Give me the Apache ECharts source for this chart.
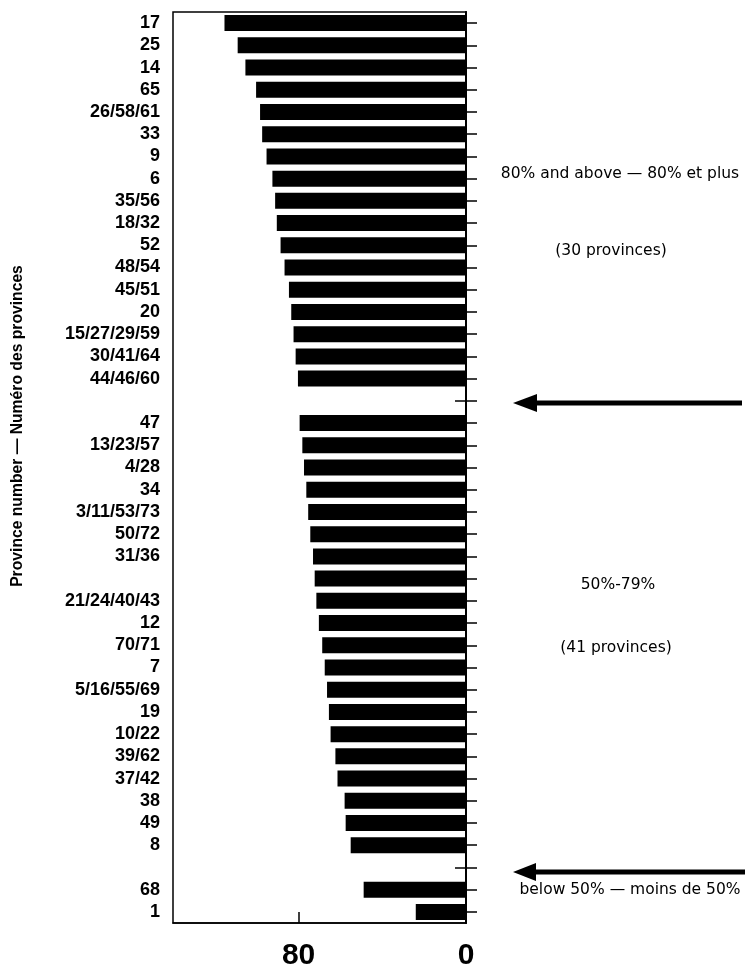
<!DOCTYPE html>
<html>
<head>
<meta charset="utf-8">
<script src="https://cdn.jsdelivr.net/npm/echarts@6/dist/echarts.min.js"></script>
<style>
  html, body { margin: 0; padding: 0; background: #fff; }
  #chart { width: 753px; height: 967px; }
</style>
</head>
<body>
<div id="chart"></div>
<script>
// rows top to bottom, blank names = spacer rows between groups (and the one unlabelled bar)
const provinces = [
  '17', '25', '14', '65', '26/58/61', '33', '9', '6', '35/56', '18/32', '52',
  '48/54', '45/51', '20', '15/27/29/59', '30/41/64', '44/46/60',
  ' ',
  '47', '13/23/57', '4/28', '34', '3/11/53/73', '50/72', '31/36', '  ',
  '21/24/40/43', '12', '70/71', '7', '5/16/55/69', '19', '10/22', '39/62',
  '37/42', '38', '49', '8',
  '   ',
  '68', '1'
]
const rates = [
  115.4, 109.1, 105.4, 100.3, 98.4, 97.4, 95.3, 92.5, 91.2, 90.4, 88.6,
  86.7, 84.6, 83.5, 82.4, 81.4, 80.3,
  null,
  79.5, 78.2, 77.4, 76.3, 75.4, 74.4, 73.1, 72.3,
  71.5, 70.3, 68.7, 67.5, 66.4, 65.5, 64.7, 62.4,
  61.4, 58.0, 57.5, 55.1,
  null,
  48.9, 24.0
]
const gapRows = [17, 38]
const xTicks = [0, 80]

const chart = echarts.init(document.getElementById('chart'))

const lab = { fontFamily: 'DejaVu Sans', fontSize: 15.5, fill: '#000', align: 'center', verticalAlign: 'middle' }

const option = {
  backgroundColor: '#fff',
  animation: false,
  grid: {
    left: 173, right: 287, top: 12, bottom: 44,
    show: true, borderColor: '#000', borderWidth: 1.5,
    containLabel: false, outerBoundsMode: 'none'
  },
  xAxis: {
    type: 'value',
    min: 0,
    max: 140,
    inverse: true,
    axisLine: { show: true, lineStyle: { color: '#000', width: 1.5 } },
    axisTick: { show: true, inside: true, length: 11, customValues: xTicks, lineStyle: { color: '#000', width: 1.5 } },
    axisLabel: {
      customValues: xTicks,
      margin: 18,
      color: '#000',
      fontFamily: 'Liberation Sans',
      fontWeight: 'bold',
      fontSize: 30
    },
    splitLine: { show: false }
  },
  yAxis: [
    {
      type: 'category',
      data: provinces,
      inverse: true,
      position: 'left',
      axisLine: { show: true, lineStyle: { color: '#000', width: 1.5 } },
      axisTick: { show: false },
      axisLabel: {
        interval: 0,
        margin: 13,
        color: '#000',
        fontFamily: 'Liberation Sans',
        fontWeight: 'bold',
        fontSize: 18
      }
    },
    {
      type: 'category',
      data: provinces,
      inverse: true,
      position: 'right',
      axisLine: { show: true, lineStyle: { color: '#000', width: 2 } },
      axisTick: { show: true, interval: 0, alignWithLabel: true, length: 11, lineStyle: { color: '#000', width: 1.5 } },
      axisLabel: { show: false }
    },
    {
      // spacer rows get a tick that crosses the zero line
      type: 'category',
      data: provinces,
      inverse: true,
      position: 'right',
      axisLine: { show: false },
      axisTick: {
        show: true,
        inside: true,
        alignWithLabel: true,
        length: 11,
        interval: (i) => gapRows.includes(i),
        lineStyle: { color: '#000', width: 1.5 }
      },
      axisLabel: { show: false }
    }
  ],
  series: [
    {
      type: 'bar',
      data: rates,
      barWidth: 16,
      itemStyle: { color: '#000' }
    }
  ],
  graphic: [
    {
      type: 'text', x: 18, y: 426, rotation: Math.PI / 2,
      style: {
        text: 'Province number — Numéro des provinces',
        fontFamily: 'Liberation Sans', fontWeight: 'bold', fontSize: 15.7, fill: '#000',
        align: 'center', verticalAlign: 'middle'
      }
    },
    { type: 'text', x: 620, y: 174, style: Object.assign({ text: '80% and above — 80% et plus' }, lab) },
    { type: 'text', x: 611, y: 251, style: Object.assign({ text: '(30 provinces)' }, lab) },
    { type: 'text', x: 618, y: 585, style: Object.assign({ text: '50%-79%' }, lab) },
    { type: 'text', x: 616, y: 648, style: Object.assign({ text: '(41 provinces)' }, lab) },
    { type: 'text', x: 630, y: 890, style: Object.assign({ text: 'below 50% — moins de 50%' }, lab) },
    { type: 'line', shape: { x1: 530, y1: 403, x2: 742, y2: 403 }, style: { stroke: '#000', lineWidth: 5 } },
    { type: 'polygon', shape: { points: [[513, 403], [537, 394], [537, 412]] }, style: { fill: '#000' } },
    { type: 'line', shape: { x1: 530, y1: 872, x2: 745, y2: 872 }, style: { stroke: '#000', lineWidth: 5 } },
    { type: 'polygon', shape: { points: [[513, 872], [536, 863], [536, 881]] }, style: { fill: '#000' } }
  ]
}

chart.setOption(option)

window.addEventListener('resize', function () {
  chart.resize()
})
</script>
</body>
</html>
